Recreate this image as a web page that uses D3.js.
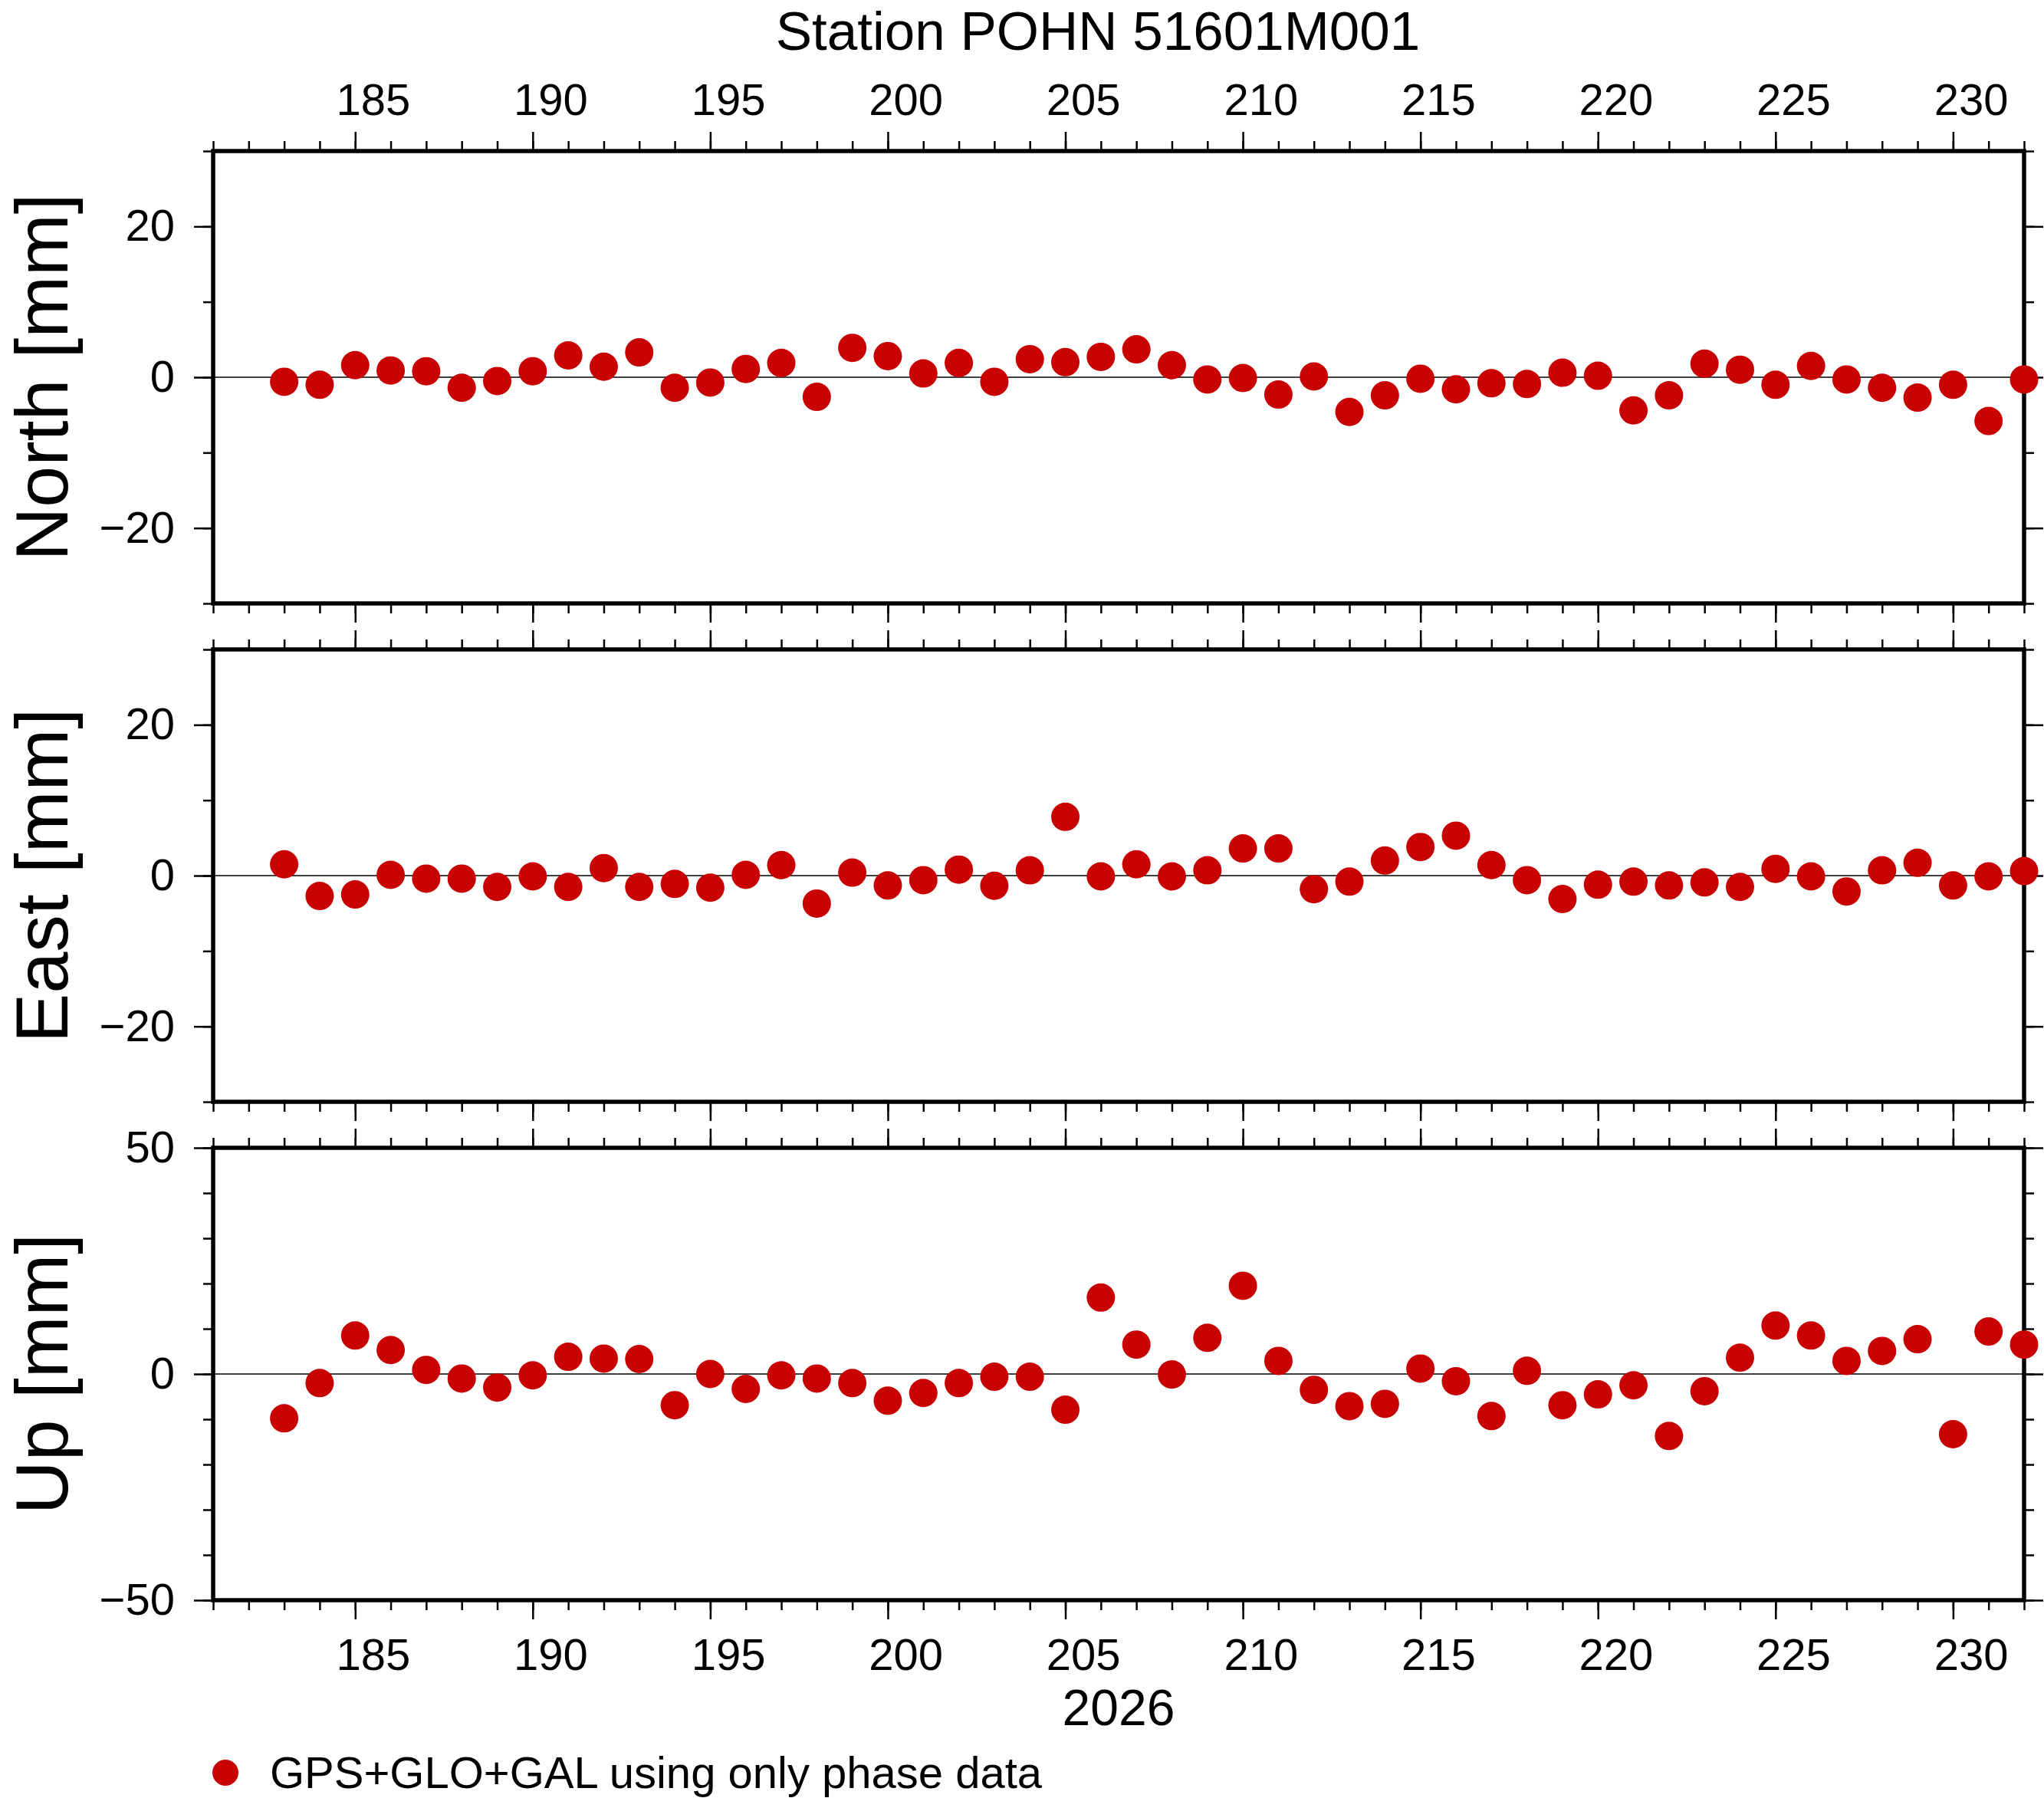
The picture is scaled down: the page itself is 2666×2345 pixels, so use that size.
<!DOCTYPE html>
<html>
<head>
<meta charset="utf-8">
<script src="https://cdn.jsdelivr.net/npm/d3@7"></script>
<style>
  body { margin: 0; background: white; }
  text { font-family: "Liberation Sans", Arial, Helvetica, sans-serif; }
</style>
</head>
<body>
<div id="chart"></div>
<script>
// day of year 2026
var days = [183, 184, 185, 186, 187, 188, 189, 190, 191, 192, 193, 194, 195, 196, 197, 198, 199, 200, 201, 202, 203, 204, 205, 206, 207,
            208, 209, 210, 211, 212, 213, 214, 215, 216, 217, 218, 219, 220, 221, 222, 223, 224, 225, 226, 227, 228, 229, 230, 231, 232];

// residuals in mm
var north = [-0.6, -1.0, 1.6, 0.9, 0.8, -1.4, -0.5, 0.8, 2.9, 1.4, 3.3, -1.4, -0.7, 1.1, 1.9, -2.6, 3.9, 2.8, 0.5, 1.9, -0.6, 2.4, 2.0, 2.7, 3.7,
             1.6, -0.3, -0.1, -2.3, 0.1, -4.6, -2.4, -0.2, -1.6, -0.8, -0.9, 0.6, 0.2, -4.4, -2.4, 1.8, 1.0, -1.0, 1.5, -0.3, -1.4, -2.7, -1.0, -5.8, -0.3];
var east = [1.5, -2.7, -2.5, 0.1, -0.4, -0.4, -1.5, -0.1, -1.5, 1.0, -1.5, -1.1, -1.6, 0.1, 1.4, -3.7, 0.4, -1.3, -0.6, 0.8, -1.35, 0.7, 7.8, -0.1, 1.5,
            -0.1, 0.7, 3.6, 3.6, -1.8, -0.8, 2.0, 3.8, 5.3, 1.4, -0.6, -3.1, -1.2, -0.8, -1.3, -0.9, -1.5, 0.9, -0.1, -2.1, 0.7, 1.7, -1.3, -0.1, 0.6];
var up = [-9.8, -2.0, 8.5, 5.3, 0.9, -1.0, -3.0, -0.3, 3.8, 3.4, 3.3, -6.9, 0.0, -3.3, -0.3, -1.0, -2.0, -5.9, -4.2, -2.0, -0.6, -0.6, -7.9, 16.9, 6.5,
          -0.1, 8.0, 19.5, 2.9, -3.5, -7.1, -6.6, 1.2, -1.6, -9.3, 0.7, -6.9, -4.5, -2.5, -13.7, -3.8, 3.6, 10.7, 8.5, 2.9, 5.1, 7.7, -13.3, 9.4, 6.5];

var xMajor = [185, 190, 195, 200, 205, 210, 215, 220, 225, 230];
var xMinor = [181, 182, 183, 184, 185, 186, 187, 188, 189, 190, 191, 192, 193, 194, 195, 196, 197, 198, 199, 200, 201, 202, 203, 204, 205, 206,
              207, 208, 209, 210, 211, 212, 213, 214, 215, 216, 217, 218, 219, 220, 221, 222, 223, 224, 225, 226, 227, 228, 229, 230, 231, 232];

var titleText = 'Station POHN 51601M001';
var yearText = '2026';
var legendText = 'GPS+GLO+GAL using only phase data';

var panelNames = ['North [mm]', 'East [mm]', 'Up [mm]'];
var panelData = [north, east, up];
var panelDomains = [[-30, 30], [-30, 30], [-50, 50]];
var panelMajor = [[-20, 0, 20], [-20, 0, 20], [-50, 0, 50]];
var panelMinor = [[-30, -20, -10, 0, 10, 20, 30], [-30, -20, -10, 0, 10, 20, 30],
                  [-50, -40, -30, -20, -10, 0, 10, 20, 30, 40, 50]];

var svgWidth = 2666,
    svgHeight = 2345;
var left = 278, right = 2640;
var panelTops = [197, 847, 1497];
var panelHeight = 590;
var major = 25, minor = 13;
var red = '#c80000';

var svg = d3.select('#chart').append('svg')
    .attr('width', svgWidth)
    .attr('height', svgHeight)
    .style('background', 'white');

var x = d3.scaleLinear().domain([181, 232]).range([left, right]);
// day labels sit in the middle of the day
var halfDay = x(181.5) - x(181);

function styleAxis(g, size) {
    g.select('.domain').remove();
    g.selectAll('.tick line').attr('stroke', 'black').attr('stroke-width', 2.5);
    g.selectAll('.tick text').attr('font-size', size + 'px').attr('fill', 'black')
        .attr('font-family', '"Liberation Sans", Arial, sans-serif');
}

panelTops.forEach(function(top, i) {
    var bottom = top + panelHeight;
    var y = d3.scaleLinear().domain(panelDomains[i]).range([bottom, top]);
    var g = svg.append('g');

    // x ticks, top and bottom of each panel
    var showTop = (i == 0), showBottom = (i == 2);
    g.append('g').attr('transform', 'translate(0,' + top + ')')
        .call(d3.axisTop(x).tickValues(xMinor).tickSize(minor).tickSizeOuter(0).tickFormat(''))
        .call(styleAxis, 58);
    g.append('g').attr('transform', 'translate(0,' + top + ')')
        .call(d3.axisTop(x).tickValues(xMajor).tickSize(major).tickSizeOuter(0).tickPadding(22)
            .tickFormat(showTop ? d3.format('d') : ''))
        .call(styleAxis, 58)
        .selectAll('.tick text').attr('dx', halfDay);
    g.append('g').attr('transform', 'translate(0,' + bottom + ')')
        .call(d3.axisBottom(x).tickValues(xMinor).tickSize(minor).tickSizeOuter(0).tickFormat(''))
        .call(styleAxis, 58);
    g.append('g').attr('transform', 'translate(0,' + bottom + ')')
        .call(d3.axisBottom(x).tickValues(xMajor).tickSize(major).tickSizeOuter(0).tickPadding(25)
            .tickFormat(showBottom ? d3.format('d') : ''))
        .call(styleAxis, 58)
        .selectAll('.tick text').attr('dx', halfDay);

    // y ticks, left with labels, right without
    g.append('g').attr('transform', 'translate(' + left + ',0)')
        .call(d3.axisLeft(y).tickValues(panelMinor[i]).tickSize(minor).tickSizeOuter(0).tickFormat(''))
        .call(styleAxis, 58);
    g.append('g').attr('transform', 'translate(' + left + ',0)')
        .call(d3.axisLeft(y).tickValues(panelMajor[i]).tickSize(major).tickSizeOuter(0).tickPadding(25)
            .tickFormat(d3.format('d')))
        .call(styleAxis, 58);
    g.append('g').attr('transform', 'translate(' + right + ',0)')
        .call(d3.axisRight(y).tickValues(panelMinor[i]).tickSize(minor).tickSizeOuter(0).tickFormat(''))
        .call(styleAxis, 58);
    g.append('g').attr('transform', 'translate(' + right + ',0)')
        .call(d3.axisRight(y).tickValues(panelMajor[i]).tickSize(major).tickSizeOuter(0).tickFormat(''))
        .call(styleAxis, 58);

    // zero line
    g.append('line')
        .attr('x1', left).attr('x2', right)
        .attr('y1', y(0)).attr('y2', y(0))
        .attr('stroke', 'black').attr('stroke-width', 1.3);

    // frame
    g.append('rect')
        .attr('x', left).attr('y', top)
        .attr('width', right - left).attr('height', panelHeight)
        .attr('fill', 'none').attr('stroke', 'black').attr('stroke-width', 5.5);

    // points
    g.selectAll('circle.pt').data(panelData[i]).enter().append('circle')
        .attr('class', 'pt')
        .attr('cx', function(d, j) { return x(days[j]); })
        .attr('cy', function(d) { return y(d); })
        .attr('r', 18.5)
        .attr('fill', red);

    // panel label
    g.append('text')
        .text(panelNames[i])
        .attr('transform', 'translate(88,' + (top + panelHeight / 2) + ') rotate(-90)')
        .attr('text-anchor', 'middle')
        .attr('font-size', '97px')
        .attr('fill', 'black');
});

//insert Title
svg.append('text')
    .text(titleText)
    .attr('x', 1432).attr('y', 65)
    .attr('text-anchor', 'middle')
    .attr('font-size', '71px')
    .attr('fill', 'black');

//insert year label
svg.append('text')
    .text(yearText)
    .attr('x', (left + right) / 2).attr('y', 2250)
    .attr('text-anchor', 'middle')
    .attr('font-size', '66px')
    .attr('fill', 'black');

//legend
svg.append('circle')
    .attr('cx', 294).attr('cy', 2312).attr('r', 17)
    .attr('fill', red);
svg.append('text')
    .text(legendText)
    .attr('x', 352).attr('y', 2332)
    .attr('font-size', '58px')
    .attr('fill', 'black');
</script>
</body>
</html>
